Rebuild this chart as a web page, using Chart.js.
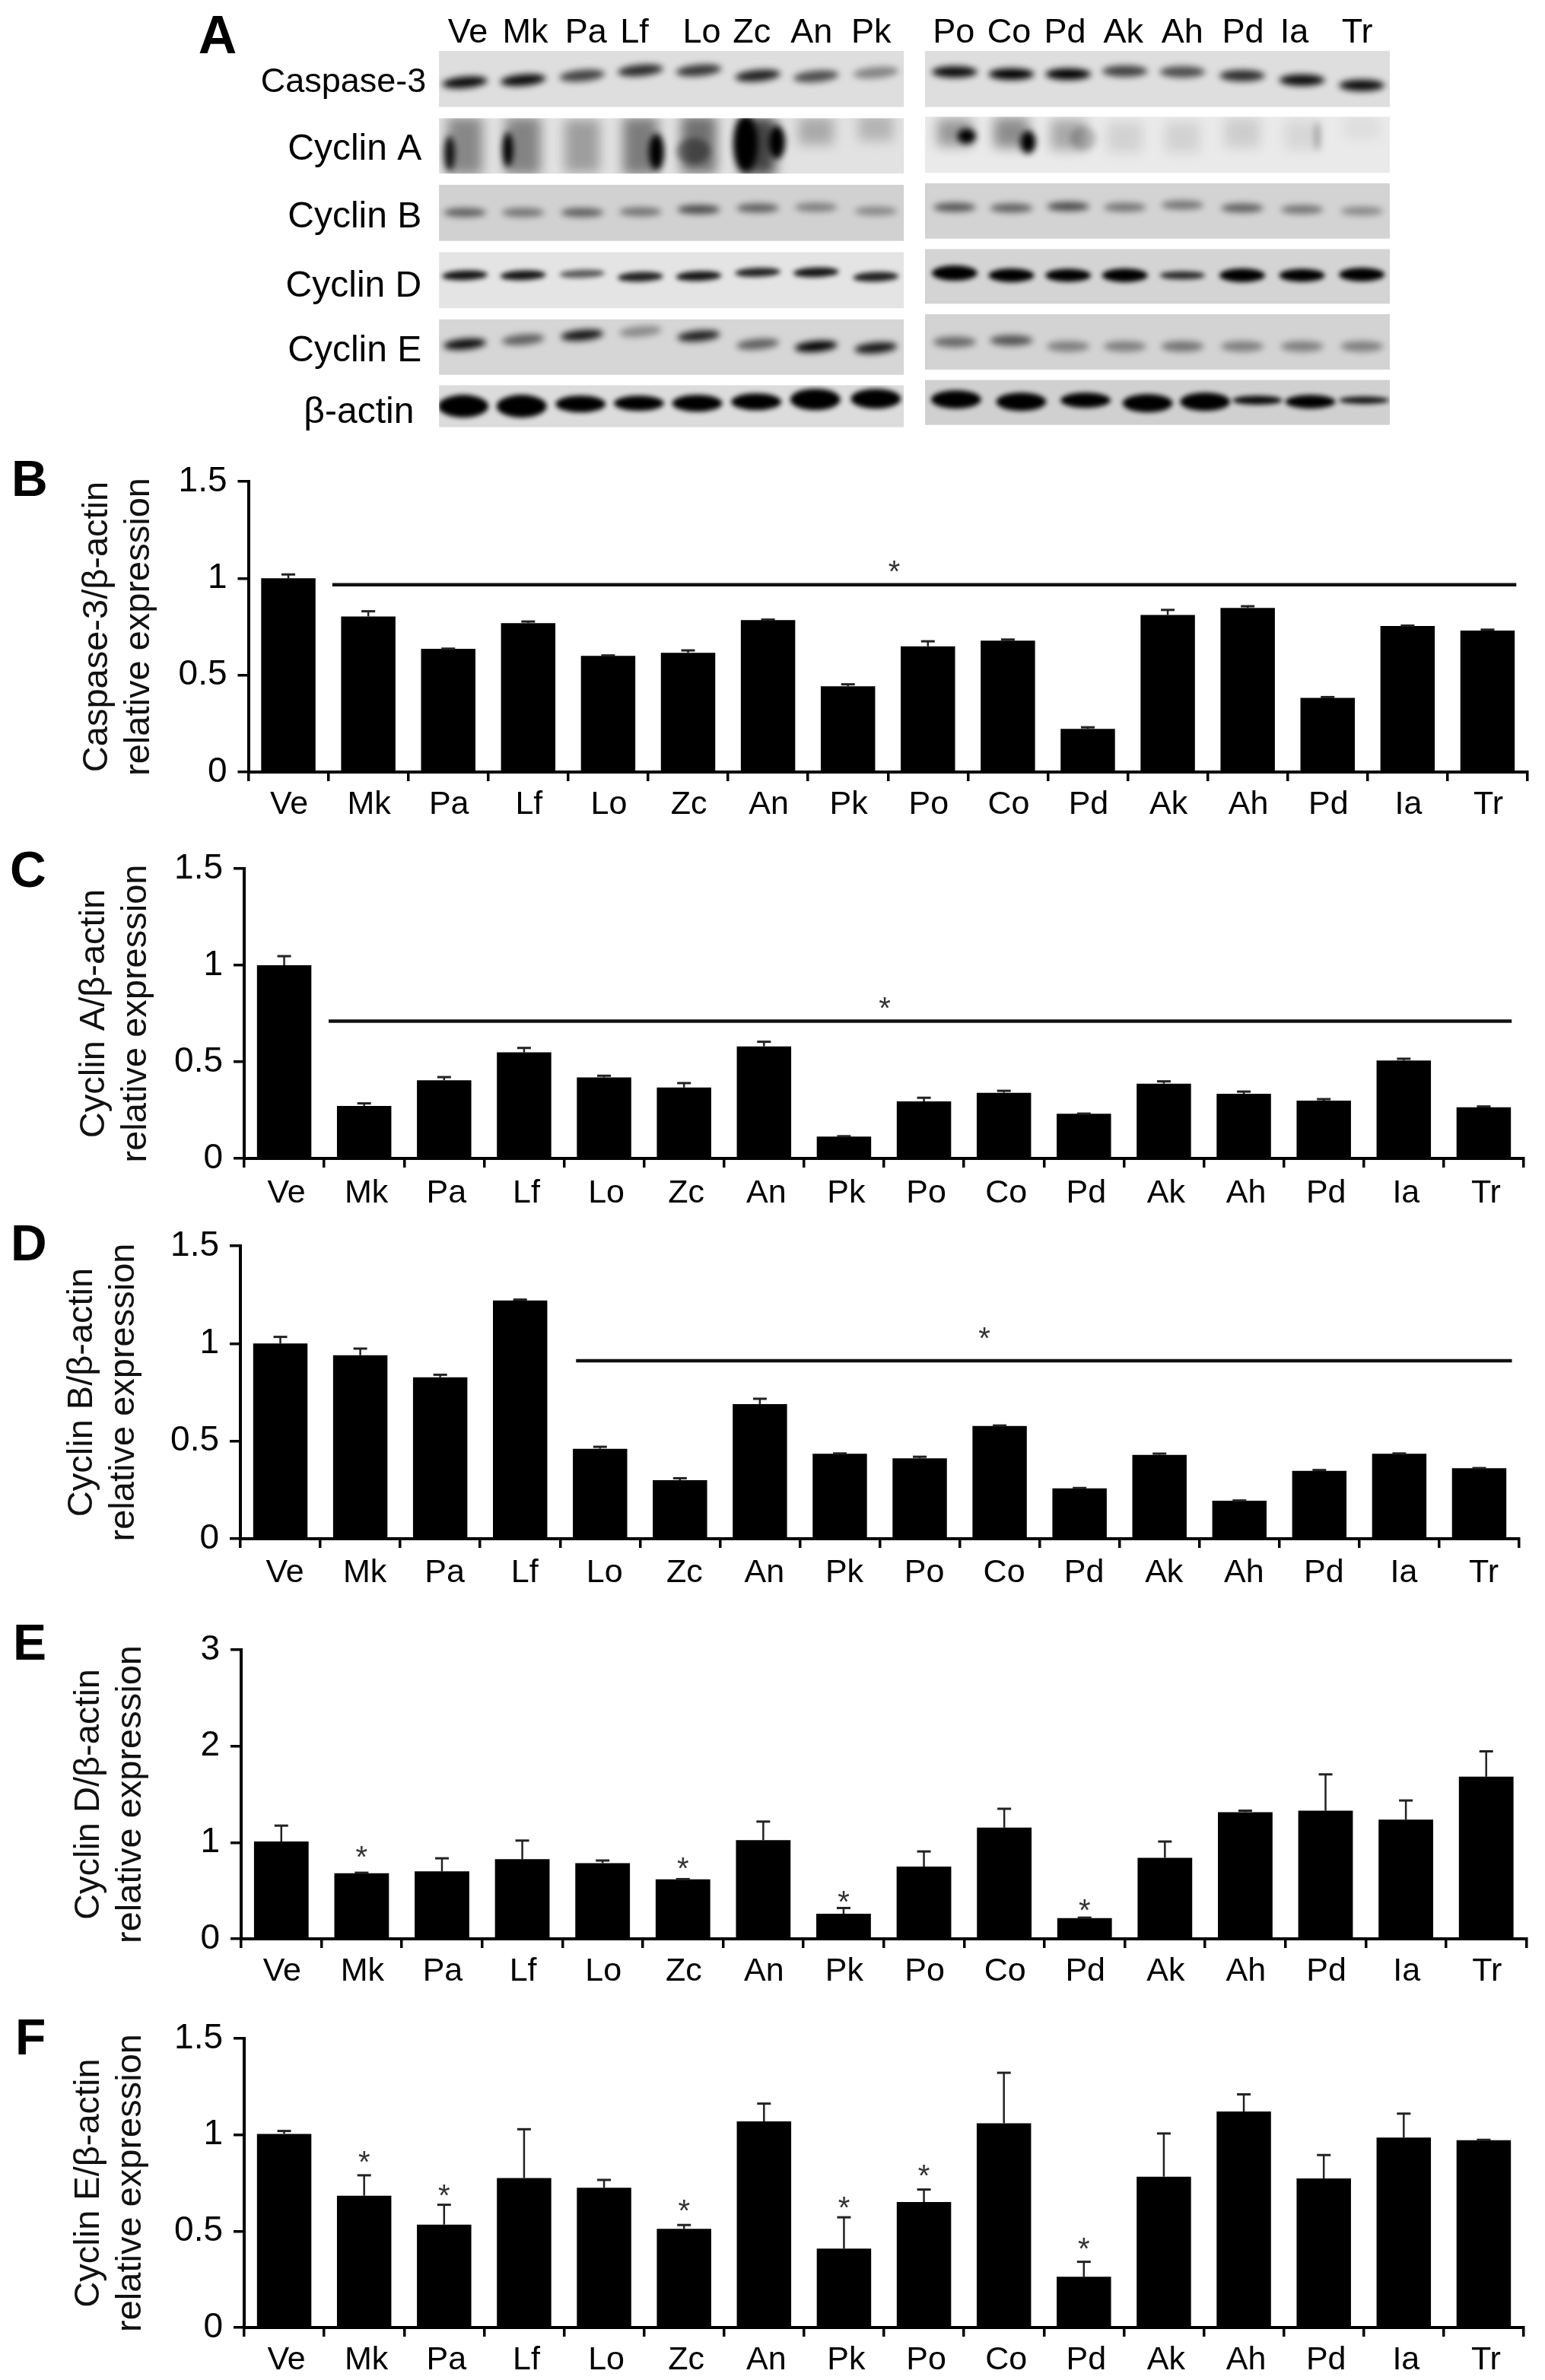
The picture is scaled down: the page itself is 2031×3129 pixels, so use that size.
<!DOCTYPE html>
<html>
<head>
<meta charset="utf-8">
<title>Cell cycle protein expression</title>
<script src="https://cdn.jsdelivr.net/npm/chart.js@4"></script>
<style>
  html, body { margin: 0; padding: 0; background: #fff; }
  #page { position: relative; width: 2031px; height: 3129px; overflow: hidden; }
  canvas { position: absolute; left: 0; }
</style>
</head>
<body>
<div id="page"></div>
<script>
const FONT = '"Liberation Sans", Arial, sans-serif';

// categories
const groups = ["Ve", "Mk", "Pa", "Lf", "Lo", "Zc", "An", "Pk", "Po", "Co", "Pd", "Ak", "Ah", "Pd", "Ia", "Tr"];

// tick labels
const ticksRelative = [0, 0.5, 1, 1.5];
const ticksCyclinD = [0, 1, 2, 3];

// series values, with the height of the upper error bar
const caspase3 = [1.0, 0.803, 0.636, 0.769, 0.6, 0.616, 0.784, 0.443, 0.649, 0.678, 0.223, 0.811, 0.847, 0.383, 0.754, 0.73];
const caspase3Err = [0.02, 0.027, 0.001, 0.008, 0.002, 0.012, 0.003, 0.01, 0.026, 0.006, 0.008, 0.026, 0.009, 0.004, 0.002, 0.005];
const cyclinA = [1.0, 0.272, 0.405, 0.549, 0.419, 0.367, 0.58, 0.113, 0.295, 0.34, 0.231, 0.387, 0.335, 0.299, 0.507, 0.265];
const cyclinAErr = [0.047, 0.013, 0.016, 0.023, 0.009, 0.023, 0.024, 0.002, 0.019, 0.01, 0.001, 0.012, 0.011, 0.008, 0.009, 0.004];
const cyclinB = [1.0, 0.94, 0.827, 1.22, 0.461, 0.3, 0.69, 0.435, 0.412, 0.578, 0.258, 0.43, 0.195, 0.348, 0.435, 0.361];
const cyclinBErr = [0.034, 0.034, 0.013, 0.005, 0.01, 0.01, 0.027, 0.002, 0.008, 0.002, 0.002, 0.006, 0.001, 0.004, 0.002, 0.001];
const cyclinD = [1.01, 0.68, 0.7, 0.826, 0.786, 0.618, 1.025, 0.26, 0.75, 1.154, 0.216, 0.84, 1.315, 1.33, 1.238, 1.683];
const cyclinDErr = [0.165, 0.006, 0.136, 0.194, 0.027, 0.002, 0.192, 0.06, 0.157, 0.196, 0.004, 0.17, 0.015, 0.377, 0.198, 0.263];
const cyclinE = [1.005, 0.684, 0.534, 0.776, 0.725, 0.512, 1.07, 0.41, 0.651, 1.06, 0.263, 0.783, 1.121, 0.774, 0.986, 0.972];
const cyclinEErr = [0.015, 0.106, 0.103, 0.253, 0.041, 0.02, 0.092, 0.162, 0.065, 0.262, 0.078, 0.224, 0.089, 0.121, 0.124, 0.002];

// asterisks above single bars: [category index, value]
const cyclinDStars = [[1, 0.926], [5, 0.807], [7, 0.46], [10, 0.37]];
const cyclinEStars = [[1, 0.895], [2, 0.721], [5, 0.645], [7, 0.658], [8, 0.826], [10, 0.445]];

// blot lanes and rows
const laneLabels = ["Ve", "Mk", "Pa", "Lf", "Lo", "Zc", "An", "Pk", "Po", "Co", "Pd", "Ak", "Ah", "Pd", "Ia", "Tr"];
const rowLabels = ["Caspase-3", "Cyclin A", "Cyclin B", "Cyclin D", "Cyclin E", "β-actin"];
// band darkness per lane, 0 to 1
const caspaseDark = [0.95, 0.95, 0.7, 0.8, 0.75, 0.85, 0.65, 0.4, 0.95, 1, 1, 0.7, 0.65, 0.8, 0.95, 0.95];
const cycAdark = [0.4, 0.42, 0.3, 0.45, 0.5, 0.7, 0.25, 0.2, 0.35, 0.4, 0.28, 0.1, 0.1, 0.12, 0.08, 0.05];
const cycBdark = [0.55, 0.45, 0.55, 0.45, 0.65, 0.55, 0.4, 0.35, 0.6, 0.55, 0.65, 0.45, 0.45, 0.55, 0.45, 0.35];
const cycDdark = [0.9, 0.9, 0.6, 0.85, 0.9, 0.85, 0.9, 0.85, 1, 1, 1, 1, 0.8, 1, 1, 1];
const cycEdark = [0.95, 0.55, 0.9, 0.35, 0.85, 0.55, 1, 0.9, 0.5, 0.6, 0.4, 0.4, 0.45, 0.4, 0.4, 0.4];
const actinDark = [1, 1, 1, 1, 1, 1, 1, 1, 1, 1, 1, 1, 1, 0.95, 1, 0.9];
// band height on the membrane per lane
const caspaseAt = [105, 102, 96, 89, 89, 96, 97, 92, 91, 94, 94, 90, 91, 96, 102, 109];
const cycAat = [190, 190, 190, 190, 188, 190, 170, 165, 172, 172, 175, 178, 178, 172, 175, 165];
const cycBat = [279, 279, 279, 278, 275, 273, 272, 277, 272, 273, 271, 272, 269, 273, 275, 277];
const cycDat = [363, 363, 361, 365, 364, 359, 359, 365, 360, 363, 363, 363, 363, 363, 363, 362];
const cycEat = [455, 449, 443, 438, 444, 455, 458, 460, 452, 450, 458, 458, 458, 458, 458, 458];
const actinAt = [538, 538, 535, 534, 534, 532, 529, 528, 529, 532, 530, 534, 532, 530, 532, 530];
// dark cores inside the Cyclin A smears
const coreAt = [200, 195, 198, 197, 187, 185, 177, 185, 180, 177];
const coreDark = [0.9, 1, 1, 0.4, 1, 1, 1, 1, 0.2, 0.3];

// layout of the bar panels
const panels = [
  { letter: "B", letterX: 15, letterY: 652, top: 585, axisX: 326.5, axisR: 2008, yTop: 633, yZero: 1015, titleX: 128, labelShift: 1, labelPad: 5,
    title: ["Caspase-3/β-actin", "relative expression"], values: caspase3, errs: caspase3Err, ticks: ticksRelative, max: 1.5,
    stars: [], sig: { from: 0.55, to: 15.36, at: 0.967, starX: 7.58, starAt: 1.072 } },
  { letter: "C", letterX: 13, letterY: 1166, top: 1090, axisX: 321, axisR: 2003, yTop: 1142, yZero: 1523, titleX: 124, labelShift: 3, labelPad: 8,
    title: ["Cyclin A/β-actin", "relative expression"], values: cyclinA, errs: cyclinAErr, ticks: ticksRelative, max: 1.5,
    stars: [], sig: { from: 0.556, to: 15.35, at: 0.711, starX: 7.51, starAt: 0.816 } },
  { letter: "D", letterX: 14, letterY: 1657, top: 1590, axisX: 316, axisR: 1997, yTop: 1638, yZero: 2023, titleX: 108, labelShift: 6, labelPad: 7,
    title: ["Cyclin B/β-actin", "relative expression"], values: cyclinB, errs: cyclinBErr, ticks: ticksRelative, max: 1.5,
    stars: [], sig: { from: 3.7, to: 15.41, at: 0.912, starX: 8.81, starAt: 1.062 } },
  { letter: "E", letterX: 17, letterY: 2182, top: 2120, axisX: 317, axisR: 2006.5, yTop: 2169, yZero: 2549, titleX: 117, labelShift: 1, labelPad: 5,
    title: ["Cyclin D/β-actin", "relative expression"], values: cyclinD, errs: cyclinDErr, ticks: ticksCyclinD, max: 3,
    stars: cyclinDStars, sig: null },
  { letter: "F", letterX: 20, letterY: 2701, top: 2620, axisX: 321, axisR: 2003, yTop: 2680, yZero: 3060, titleX: 117, labelShift: 3, labelPad: 5,
    title: ["Cyclin E/β-actin", "relative expression"], values: cyclinE, errs: cyclinEErr, ticks: ticksRelative, max: 1.5,
    stars: cyclinEStars, sig: null },
];

const page = document.getElementById("page");

function addCanvas(top, height) {
  const c = document.createElement("canvas");
  c.width = 2031;
  c.height = height;
  c.style.top = top + "px";
  page.appendChild(c);
  return c;
}

function drawStar(ctx, x, y) {
  ctx.fillStyle = "#333";
  ctx.font = "40px " + FONT;
  ctx.textAlign = "center";
  ctx.textBaseline = "alphabetic";
  ctx.fillText("*", x, y + 23);
}

// error bars, significance line, asterisks and the panel letter
function panelMarks(p) {
  return {
    id: "panelMarks",
    afterDatasetsDraw(chart) {
      const ctx = chart.ctx, x = chart.scales.x, y = chart.scales.y;
      ctx.save();
      ctx.strokeStyle = "#222";
      p.values.forEach((v, i) => {
        const cx = x.getPixelForValue(i), y0 = y.getPixelForValue(v), y1 = y.getPixelForValue(v + p.errs[i]);
        ctx.lineWidth = 2.5;
        ctx.beginPath(); ctx.moveTo(cx, y0); ctx.lineTo(cx, y1); ctx.stroke();
        ctx.lineWidth = 3;
        ctx.beginPath(); ctx.moveTo(cx - 9, y1); ctx.lineTo(cx + 9, y1); ctx.stroke();
      });
      if (p.sig) {
        const sy = y.getPixelForValue(p.sig.at);
        ctx.strokeStyle = "#111";
        ctx.lineWidth = 4.5;
        ctx.beginPath();
        ctx.moveTo(x.getPixelForValue(p.sig.from), sy);
        ctx.lineTo(x.getPixelForValue(p.sig.to), sy);
        ctx.stroke();
        drawStar(ctx, x.getPixelForValue(p.sig.starX), y.getPixelForValue(p.sig.starAt));
      }
      p.stars.forEach(s => drawStar(ctx, x.getPixelForValue(s[0]), y.getPixelForValue(s[1])));
      ctx.fillStyle = "#000";
      ctx.font = "bold 66px " + FONT;
      ctx.textAlign = "left";
      ctx.textBaseline = "alphabetic";
      ctx.fillText(p.letter, p.letterX, p.letterY - p.top);
      ctx.restore();
    },
  };
}

panels.forEach(p => {
  const xBand = 95;
  const titleSize = 47, titleLine = 55;
  const canvas = addCanvas(p.top, p.yZero - p.top + xBand + 2);
  new Chart(canvas, {
    type: "bar",
    data: {
      labels: groups,
      datasets: [{ data: p.values, backgroundColor: "#000", barPercentage: 0.68, categoryPercentage: 1 }],
    },
    options: {
      responsive: false,
      devicePixelRatio: 1,
      animation: false,
      layout: { padding: { left: p.titleX - titleLine / 2, right: 2031 - p.axisR, top: p.yTop - p.top, bottom: 2 } },
      plugins: { legend: { display: false }, tooltip: { enabled: false } },
      scales: {
        x: {
          afterFit: s => { s.height = xBand; },
          border: { color: "#000", width: 4 },
          grid: { drawOnChartArea: false, offset: true, color: "#000", lineWidth: 3.5, tickLength: 12 },
          ticks: { color: "#000", font: { family: FONT, size: 43 }, padding: p.labelPad, labelOffset: p.labelShift, autoSkip: false, maxRotation: 0 },
        },
        y: {
          min: 0,
          max: p.max,
          afterBuildTicks: a => { a.ticks = p.ticks.map(v => ({ value: v })); },
          afterFit: s => { s.width = p.axisX - (p.titleX - titleLine / 2); },
          border: { color: "#000", width: 4 },
          grid: { drawOnChartArea: false, color: "#000", lineWidth: 3.5, tickLength: 14 },
          ticks: { color: "#000", font: { family: FONT, size: 46 }, padding: 14, callback: v => String(v) },
          title: {
            display: true,
            text: p.title,
            color: "#111",
            padding: 0,
            font: { family: FONT, size: titleSize, lineHeight: titleLine / titleSize },
          },
        },
      },
    },
    plugins: [panelMarks(p)],
  });
});

// panel A, the blot
const lanePos = [609, 686, 764, 841, 918, 996, 1073, 1152, 1256, 1331, 1406, 1481, 1557, 1636, 1715, 1794];
const actinPos = [607, 684, 762, 839, 916, 994, 1072, 1152, 1258, 1344, 1429, 1511, 1587, 1656, 1726, 1797];
const laneTextX = [613, 689, 769, 833, 922, 988, 1067, 1146, 1255, 1328, 1402, 1479, 1557, 1637, 1705, 1788];
const blotLeft = [575, 1189], blotRight = [1217, 1831];
const blotRows = [
  { label: 0, right: 558, base: 118, font: 45, dark: caspaseDark, at: caspaseAt, xs: lanePos, w: 60, h: 15, blur: 4, tilt: -5,
    gray: "#dedede", grayR: "#dedede", boxL: [63, 138], boxR: [63, 138] },
  { label: 1, right: 552, base: 208, font: 48, dark: cycAdark, at: cycAat, xs: lanePos, w: 46, blur: 8, tilt: 0, smear: true,
    h: [76, 76, 70, 76, 76, 76, 36, 36, 36, 40, 40, 40, 40, 40, 40, 30],
    gray: "#e2e2e2", grayR: "#eaeaea", boxL: [153, 227], boxR: [151, 226] },
  { label: 2, right: 552, base: 299, font: 48, dark: cycBdark, at: cycBat, xs: lanePos, w: 56, h: 12, blur: 4, tilt: 0,
    gray: "#d1d1d1", grayR: "#d3d3d3", boxL: [242, 317], boxR: [240, 314] },
  { label: 3, right: 552, base: 392, font: 48, dark: cycDdark, at: cycDat, xs: lanePos, w: 60, blur: 3, tilt: -2,
    h: [13, 13, 11, 13, 13, 12, 13, 13, 20, 18, 17, 18, 11, 18, 17, 18],
    gray: "#e4e4e4", grayR: "#d4d4d4", boxL: [332, 407], boxR: [328, 401] },
  { label: 4, right: 552, base: 478, font: 48, dark: cycEdark, at: cycEat, xs: lanePos, w: 56, h: 14, blur: 4, tilt: -5,
    gray: "#d6d6d6", grayR: "#d3d3d3", boxL: [422, 496], boxR: [415, 489] },
  { label: 5, right: 542, base: 560, font: 48, dark: actinDark, at: actinAt, xs: actinPos, w: 66, blur: 3, tilt: 0,
    h: [30, 30, 22, 20, 22, 22, 28, 26, 24, 24, 20, 24, 24, 12, 18, 10],
    gray: "#dcdcdc", grayR: "#d0d0d0", boxL: [510, 566], boxR: [503, 563] },
];
// extra layer of dark streaks for the Cyclin A row
const corePos = [589, 666, 862, 911, 980, 1021, 1272, 1353, 1426, 1735];
const coreW = [14, 14, 20, 44, 32, 22, 24, 20, 34, 7];
const coreH = [46, 46, 48, 34, 74, 44, 20, 30, 32, 38];

function bandSprite(w, h, blur, dark, smear) {
  const pad = blur * 3;
  const c = document.createElement("canvas");
  c.width = w + pad * 2;
  c.height = h + pad * 2;
  const g = c.getContext("2d");
  g.filter = "blur(" + blur + "px)";
  g.fillStyle = "rgba(0,0,0," + dark + ")";
  if (smear) {
    g.fillRect(pad, pad, w, h);
  } else {
    g.beginPath();
    g.ellipse(c.width / 2, c.height / 2, w / 2, h / 2, 0, 0, Math.PI * 2);
    g.fill();
  }
  return c;
}

function rowClip(ctx, x, y, r) {
  ctx.beginPath();
  [[blotLeft, r.boxL], [blotRight, r.boxR]].forEach(b => {
    const x0 = x.getPixelForValue(b[0][0]), x1 = x.getPixelForValue(b[0][1]);
    const y0 = y.getPixelForValue(b[1][0]), y1 = y.getPixelForValue(b[1][1]);
    ctx.rect(x0, y0, x1 - x0, y1 - y0);
  });
  ctx.clip();
}

const blotPlugin = {
  id: "blotFrame",
  beforeDatasetsDraw(chart) {
    const ctx = chart.ctx, x = chart.scales.x, y = chart.scales.y;
    ctx.save();
    blotRows.forEach(r => {
      [[blotLeft, r.boxL, r.gray], [blotRight, r.boxR, r.grayR]].forEach(b => {
        const x0 = x.getPixelForValue(b[0][0]), x1 = x.getPixelForValue(b[0][1]);
        const y0 = y.getPixelForValue(b[1][0]), y1 = y.getPixelForValue(b[1][1]);
        ctx.fillStyle = b[2];
        ctx.fillRect(x0, y0, x1 - x0, y1 - y0);
      });
    });
    ctx.restore();
  },
  beforeDatasetDraw(chart, args) {
    chart.ctx.save();
    rowClip(chart.ctx, chart.scales.x, chart.scales.y, blotRows[chart.data.datasets[args.index].row]);
  },
  afterDatasetDraw(chart) {
    chart.ctx.restore();
  },
  afterDatasetsDraw(chart) {
    const ctx = chart.ctx, x = chart.scales.x, y = chart.scales.y;
    ctx.save();
    ctx.fillStyle = "#000";
    ctx.textBaseline = "alphabetic";
    ctx.font = "45px " + FONT;
    ctx.textAlign = "center";
    laneLabels.forEach((t, i) => ctx.fillText(t, x.getPixelForValue(laneTextX[i]), y.getPixelForValue(52)));
    ctx.textAlign = "right";
    blotRows.forEach(r => {
      ctx.font = r.font + "px " + FONT;
      ctx.fillText(rowLabels[r.label], x.getPixelForValue(r.right), y.getPixelForValue(r.base));
    });
    ctx.font = "bold 70px " + FONT;
    ctx.textAlign = "left";
    ctx.fillText("A", x.getPixelForValue(257), y.getPixelForValue(66));
    ctx.restore();
  },
};

const bandSets = blotRows.map((r, n) => ({
  row: n,
  data: r.at.map((v, i) => ({ x: r.xs[i], y: v })),
  pointStyle: r.dark.map((d, i) => bandSprite(r.w, Array.isArray(r.h) ? r.h[i] : r.h, r.blur, d, r.smear)),
  pointRotation: r.at.map((v, i) => (i < 8 ? r.tilt : 0)),
  clip: false,
}));
bandSets.push({
  row: 1,
  data: coreAt.map((v, i) => ({ x: corePos[i], y: v })),
  pointStyle: coreDark.map((d, i) => bandSprite(coreW[i], coreH[i], 4, d)),
  clip: false,
});

new Chart(addCanvas(0, 600), {
  type: "scatter",
  data: { datasets: bandSets },
  options: {
    responsive: false,
    devicePixelRatio: 1,
    animation: false,
    layout: { padding: 0 },
    plugins: { legend: { display: false }, tooltip: { enabled: false } },
    scales: {
      x: { type: "linear", min: 0, max: 2031, display: false },
      y: { type: "linear", min: 0, max: 600, reverse: true, display: false },
    },
  },
  plugins: [blotPlugin],
});
</script>
</body>
</html>
